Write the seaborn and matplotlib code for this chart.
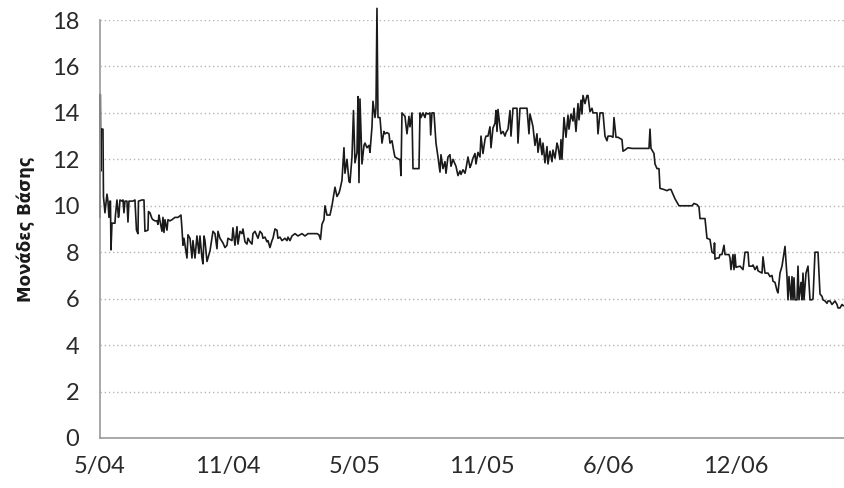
#!/usr/bin/env python3
"""
Spread in basis points, daily series May 2004 - May 2007.
"""
import numpy as np
import pandas as pd
import matplotlib
matplotlib.use("Agg")
import matplotlib.pyplot as plt
import seaborn as sns

# (trading day, basis points), one list per stretch
spread_2004a = [
    (0, 9.5), (0.3, 14.8), (1, 11.5), (1.3, 13.3), (3, 13.3), (3.5, 10.4), (5, 9.7),
    (7, 10.5), (8, 10.2), (9, 9.5), (10, 10.2), (10.5, 10.2), (11, 8.1), (12, 9.25),
    (15, 9.25), (15.5, 9.6), (17, 10.25), (18.5, 9.5), (19, 9.6), (20, 10.25),
    (22, 10.2), (23, 10.25), (24, 9.7), (25, 10.2), (27, 10.2), (28, 9.3), (29, 10.2),
    (32, 10.2), (33, 10.2), (35, 10.25), (36.5, 8.95), (38, 8.8), (38.5, 10.2),
    (42, 10.25), (44, 10.25), (45, 8.9), (48, 8.95), (48.5, 9.75), (50, 9.7),
    (52, 9.45), (53, 9.4), (55, 9.35), (57, 9.35), (58, 9.2), (59, 9.6), (60, 9.35),
    (62, 8.9), (63, 9.5), (64, 8.85), (65, 9.4), (67, 8.95), (68, 9.4), (70, 9.35),
    (72, 9.4), (75, 9.5), (78, 9.5), (81, 9.6), (82, 9.0), (83, 8.3), (84, 8.6),
    (87, 7.75), (88, 8.75), (90, 8.6), (92, 7.75), (93, 8.5), (95, 7.75), (97, 8.7),
    (99, 7.95), (100, 8.7), (102, 7.75), (103, 7.5), (104, 8.7),
]
spread_2004b = [
    (105, 8.5), (107, 7.6), (110, 8.05), (113, 8.9), (115, 8.8), (117, 8.15),
    (118, 8.9), (120, 8.6), (123, 8.4), (125, 8.2), (127, 8.3), (128, 8.6),
    (132, 8.5), (133, 9.05), (135, 8.3), (137, 9.1), (138, 8.35), (140, 8.9),
    (142, 8.8), (143, 9.0), (145, 8.45), (147, 8.35), (148, 8.6), (150, 8.45),
    (152, 8.35), (153, 8.8), (155, 8.9), (157, 8.7), (158, 8.6), (160, 8.9),
    (162, 8.8), (163, 8.6), (165, 8.65), (167, 8.45), (168, 8.5), (170, 8.2),
    (172, 8.5), (173, 8.6), (175, 9.0), (177, 8.95), (178, 8.6), (180, 8.65),
    (182, 8.5), (185, 8.6), (187, 8.5), (188, 8.65), (190, 8.5), (192, 8.7),
    (195, 8.8), (198, 8.7), (202, 8.8), (205, 8.7), (208, 8.8),
]
spread_2005a = [
    (212, 8.8), (217, 8.8), (219, 8.75), (220.5, 8.55), (222, 9.2), (224, 9.4),
    (225, 10.0), (227, 9.6), (230, 9.6), (232, 10.0), (234, 10.55), (235, 10.8),
    (237, 10.4), (239, 10.55), (240, 10.7), (242, 11.1), (244, 12.5), (245, 11.4),
    (247, 12.0), (249, 11.05), (250, 11.0), (252, 12.1), (253.5, 14.1), (255, 11.85),
    (257, 12.3), (258, 14.7), (259, 11.0), (260, 14.6), (262, 11.8), (264, 12.6),
    (265, 12.7), (267, 12.5), (269, 12.6), (270, 12.3), (272, 13.4), (273, 14.5),
    (275, 13.8), (276, 14.2), (277, 18.5), (278, 13.8), (280, 13.8), (282, 12.7),
    (284, 13.2), (285, 13.1), (287, 13.15), (289, 13.1), (290, 12.7), (292, 12.8),
    (294, 12.3), (295, 12.1), (297, 12.05), (299, 12.0), (300, 12.0), (301, 11.3),
    (302, 14.0), (305, 13.85), (307, 13.1), (309, 13.85), (310, 13.4), (312, 14.0),
    (313, 11.6), (319, 11.6),
]
spread_2005b = [
    (320, 14.0), (321, 13.8), (323, 14.0), (325, 13.8), (326, 14.0), (328, 13.95),
    (330, 14.0), (330.7, 13.05), (332, 14.0), (334, 14.0), (336, 12.7), (338, 12.1),
    (340, 11.45), (341, 12.2), (343, 11.6), (345, 11.9), (346, 11.4), (348, 12.1),
    (350, 12.2), (351, 11.7), (353, 12.0), (355, 11.8), (356, 11.7), (358, 11.3),
    (360, 11.5), (361, 11.35), (363, 11.55), (365, 11.4), (366, 11.6), (368, 12.1),
    (370, 11.65), (371, 11.75), (373, 12.05), (375, 12.25), (376, 11.8), (378, 12.3),
    (380, 12.1), (381, 13.0), (383, 12.25), (385, 12.85), (386, 13.0), (388, 13.0),
    (390, 13.4), (391, 12.5), (393, 13.35), (395, 13.55), (396, 14.1), (397, 13.2),
    (398, 14.15), (400, 13.4), (401, 13.1), (403, 13.2), (405, 13.0), (406, 13.15),
    (408, 13.3), (410, 14.1), (411, 13.0), (413, 14.2), (415, 14.2), (417, 14.2),
    (418, 12.7), (420, 14.2), (423, 14.2),
]
spread_2006a = [
    (425, 14.2), (427, 14.2), (429, 13.1), (430, 13.95), (432, 13.6), (433, 13.4),
    (435, 12.6), (437, 13.1), (438, 12.3), (440, 12.9), (442, 12.2), (443, 12.7),
    (445, 11.85), (447, 12.55), (448, 11.8), (450, 12.35), (452, 11.9), (453, 12.4),
    (455, 12.05), (457, 12.7), (458, 12.55), (460, 12.0), (461, 12.85), (462, 12.0),
    (464, 13.8), (466, 12.95), (468, 13.9), (469, 13.3), (471, 13.95), (473, 13.65),
    (474, 14.2), (476, 13.2), (478, 14.4), (479, 13.7), (481, 14.55), (482, 13.95),
    (483, 14.75), (485, 14.4), (487, 14.75), (488, 14.75), (490, 14.05), (492, 14.2),
    (493, 14.0), (497, 14.0), (498, 13.1), (500, 14.0), (503, 14.0), (505, 13.0),
    (507, 12.8), (508, 13.0), (511, 13.0), (513, 12.95), (514, 13.8), (516, 12.95),
    (518, 12.95), (522, 12.85), (523, 12.35), (525, 12.4), (528, 12.5),
]
spread_2006b = [
    (532, 12.47), (549, 12.47), (550, 13.3), (551, 12.47), (552, 12.4), (554, 12.25),
    (555, 11.8), (557, 11.6), (559, 11.6), (560, 10.75), (564, 10.7), (567, 10.65),
    (569, 10.7), (571, 10.7), (573, 10.5), (575, 10.3), (579, 10.0), (592, 10.0),
    (594, 10.1), (597, 10.05), (599, 9.95), (600, 9.45), (605, 9.45), (607, 8.6),
    (610, 8.55), (612, 8.0), (614, 7.95), (614.5, 8.4), (615, 7.7), (617, 7.75),
    (619, 7.75), (620, 7.9), (622, 7.9), (624, 8.3), (625, 7.9), (627, 7.9),
    (629, 7.9), (630, 7.75), (631, 7.25), (633, 7.9), (634, 7.25), (635, 7.9),
    (636, 7.35),
]
spread_2007 = [
    (640, 7.4), (643, 7.25), (645, 8.0), (648, 8.0), (649, 7.4), (652, 7.4),
    (653, 7.45), (655, 7.25), (657, 7.4), (658, 7.2), (662, 7.1), (663, 7.8),
    (665, 7.1), (668, 7.1), (670, 6.95), (672, 7.0), (673, 6.75), (675, 6.7),
    (677, 6.35), (678, 6.25), (680, 7.1), (682, 7.4), (685, 8.25), (687, 6.95),
    (688, 5.95), (689, 6.95), (691, 5.95), (692, 6.95), (693, 5.95), (694, 6.9),
    (695, 5.95), (697, 5.95), (698, 7.4), (699, 5.95), (701, 6.7), (702, 5.95),
    (703, 7.1), (704, 5.95), (706, 7.1), (708, 7.4), (710, 5.95), (712, 5.95),
    (713, 6.0), (715, 8.0), (718, 8.0), (720, 6.2), (722, 6.1), (723, 5.95),
    (725, 5.9), (727, 5.8), (728, 5.9), (730, 5.9), (732, 5.75), (733, 5.8),
    (735, 5.9), (737, 5.75), (738, 5.6), (740, 5.6), (742, 5.75), (743, 5.7),
    (745, 5.7),
]

tick_days = [0, 128, 255, 382, 509, 636]
tick_labels = ["5/04", "11/04", "5/05", "11/05", "6/06", "12/06"]
y_ticks = [0, 2, 4, 6, 8, 10, 12, 14, 16, 18]
y_label = "Μονάδες Βάσης"


def main():
    segments = [spread_2004a, spread_2004b, spread_2005a, spread_2005b,
                spread_2006a, spread_2006b, spread_2007]
    df = pd.concat([pd.DataFrame(s, columns=["day", "bp"]) for s in segments],
                   ignore_index=True)

    sns.set_style("white")
    plt.rcParams['font.family'] = ['Lato', 'DejaVu Sans']

    fig = plt.figure(figsize=(8.45, 4.88), dpi=100)
    ax = fig.add_axes([0.1183, 0.1025, 0.8817, 0.8565])

    grey = "#9a9a9a"
    for yv in y_ticks[1:]:
        ax.axhline(yv, color="#b5b5b5", lw=1.0, ls=(0, (1, 2)), zorder=0)

    sns.lineplot(data=df, x="day", y="bp", estimator=None, sort=False,
                 color="#1a1a1a", lw=1.2, ax=ax, clip_on=False)

    ax.set_xlim(0, 745)
    ax.set_ylim(0, 18)
    ax.set_xticks(tick_days)
    ax.set_xticklabels(tick_labels)
    ax.set_yticks(y_ticks)
    ax.tick_params(axis='both', colors=grey, labelcolor="#2a2a2a",
                   labelsize=17, length=10, width=1.2, direction='out')
    ax.tick_params(axis='y', pad=5)
    ax.tick_params(axis='x', pad=3)

    ax.set_xlabel("")
    ax.set_ylabel(y_label, fontsize=12, fontweight='bold', color="#1a1a1a",
                  family='DejaVu Sans', labelpad=12)

    for side in ["top", "right"]:
        ax.spines[side].set_visible(False)
    for side in ["left", "bottom"]:
        ax.spines[side].set_color(grey)
        ax.spines[side].set_linewidth(1.2)

    plt.savefig("out.png", dpi=100)
    plt.close()


if __name__ == "__main__":
    main()
